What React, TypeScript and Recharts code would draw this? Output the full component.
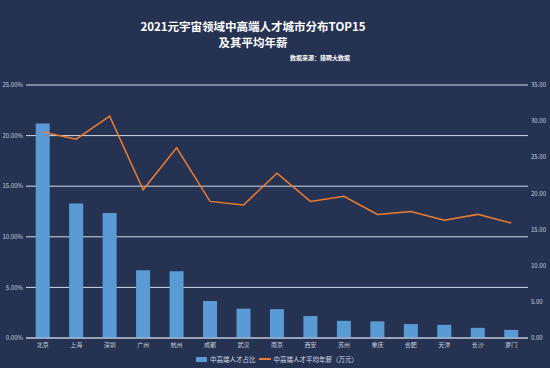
import React from "react";
import { ComposedChart, Bar, Line, XAxis, YAxis, CartesianGrid, Legend } from "recharts";

const cities = ["北京", "上海", "深圳", "广州", "杭州", "成都", "武汉", "南京", "西安", "苏州", "重庆", "合肥", "天津", "长沙", "厦门"];
const talentShare = [21.2, 13.3, 12.35, 6.7, 6.6, 3.65, 2.9, 2.85, 2.17, 1.7, 1.65, 1.38, 1.3, 1.0, 0.8];
const avgSalary = [28.5, 27.5, 30.7, 20.5, 26.3, 18.9, 18.4, 22.8, 18.9, 19.6, 17.1, 17.5, 16.3, 17.1, 15.9];
const leftTicks = [0, 5, 10, 15, 20, 25];
const rightTicks = [0, 5, 10, 15, 20, 25, 30, 35];

const data = cities.map((city, i) => ({ city, share: talentShare[i], salary: avgSalary[i] }));

const FONT = '"Noto Sans CJK SC", "Noto Sans", sans-serif';
const BG = "#263252";
const BLUE = "#5b9bd5";
const ORANGE = "#ed7d31";
const TICK = { fontSize: 6, fill: "#c9d0de", fontFamily: FONT };

function LegendContent() {
  return (
    <div style={{ height: 16, display: "flex", justifyContent: "center", alignItems: "flex-end", fontSize: 6.5, lineHeight: "10px", color: "#d5dbe6", fontFamily: FONT, paddingLeft: 4, boxSizing: "border-box", paddingBottom: 4 }}>
      <span style={{ display: "inline-block", width: 11, height: 5, background: BLUE, marginRight: 3, marginBottom: 2 }} />
      <span style={{ marginRight: 3 }}>中高端人才占比</span>
      <span style={{ display: "inline-block", width: 12, height: 2, background: ORANGE, marginRight: 3, marginBottom: 4 }} />
      <span>中高端人才平均年薪（万元）</span>
    </div>
  );
}

export default function App() {
  return (
    <div style={{ position: "absolute", left: 0, top: 0, width: 550, height: 368, background: BG, fontFamily: FONT }}>
      <div style={{ position: "absolute", left: 0, width: 506, top: 18, textAlign: "center", color: "#ffffff", fontWeight: 700, fontSize: 11.5, lineHeight: "16px" }}>
        <div>2021元宇宙领域中高端人才城市分布TOP15</div>
        <div>及其平均年薪</div>
      </div>
      <div style={{ position: "absolute", left: 290, top: 53, color: "#ffffff", fontWeight: 700, fontSize: 6 }}>数据来源：猎聘大数据</div>
      <ComposedChart width={550} height={368} data={data} margin={{ top: 85, right: 0, left: 0, bottom: 0 }} barCategoryGap="29%">
        <CartesianGrid vertical={false} stroke="#d3dAea" strokeWidth={1} yAxisId="left" />
        <XAxis dataKey="city" tick={TICK} tickLine={false} tickSize={0} axisLine={{ stroke: "#b8c0d0" }} height={14} interval={0} tickMargin={5} />
        <YAxis yAxisId="left" domain={[0, 25]} ticks={leftTicks} tickFormatter={(v: number) => `${v.toFixed(2)}%`} tick={TICK} tickLine={false} tickSize={0} axisLine={false} width={26} tickMargin={3} />
        <YAxis yAxisId="right" orientation="right" domain={[0, 35]} ticks={rightTicks} tickFormatter={(v: number) => v.toFixed(2)} tick={TICK} tickLine={false} tickSize={0} axisLine={false} width={22} tickMargin={3} />
        <Legend content={<LegendContent />} verticalAlign="bottom" height={16} />
        <Bar yAxisId="left" dataKey="share" name="中高端人才占比" fill={BLUE} isAnimationActive={false} />
        <Line yAxisId="right" dataKey="salary" name="中高端人才平均年薪（万元）" type="linear" stroke={ORANGE} strokeWidth={1.5} dot={false} isAnimationActive={false} />
      </ComposedChart>
    </div>
  );
}
